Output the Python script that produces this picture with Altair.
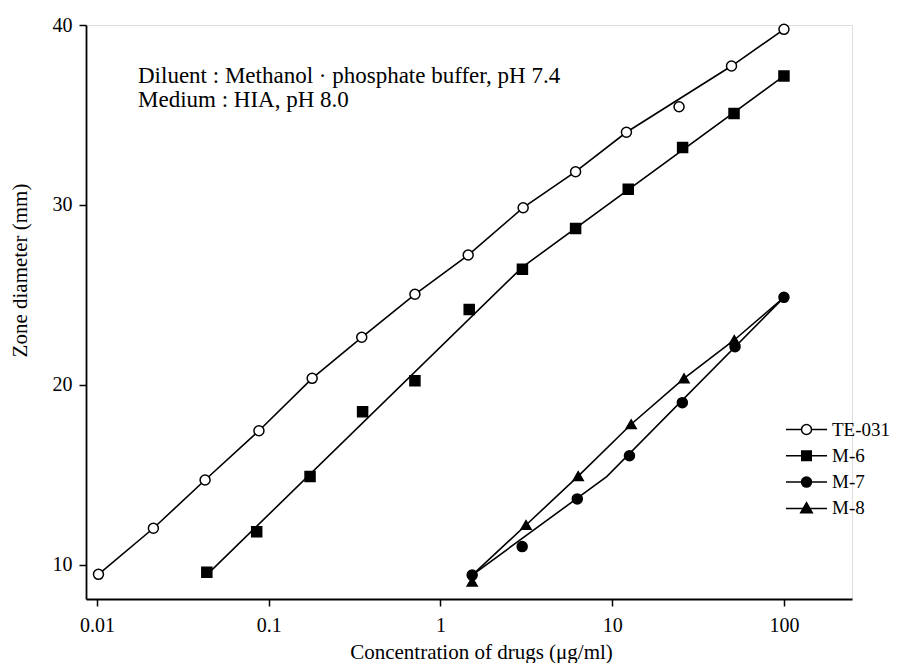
import altair as alt
import pandas as pd

# ---------------- data ----------------
series_order = ["TE-031", "M-6", "M-7", "M-8"]

te031_conc = [0.0102, 0.0213, 0.0426, 0.0877, 0.179, 0.348, 0.71, 1.45, 3.03, 6.12, 12.1, 24.5, 49.5, 100]
te031_zone = [9.48, 12.04, 14.72, 17.46, 20.37, 22.65, 25.04, 27.22, 29.85, 31.85, 34.04, 35.46, 37.72, 39.76]

m6_conc = [0.0436, 0.0851, 0.174, 0.352, 0.71, 1.47, 3.0, 6.12, 12.4, 25.7, 51.2, 100]
m6_zone = [9.59, 11.85, 14.91, 18.52, 20.24, 24.2, 26.43, 28.7, 30.87, 33.2, 35.09, 37.17]

m7_conc = [1.53, 2.99, 6.26, 12.6, 25.6, 51.9, 100]
m7_zone = [9.44, 11.02, 13.67, 16.07, 19.02, 22.13, 24.87]

m8_conc = [1.53, 3.15, 6.34, 12.9, 26.2, 51.4]
m8_zone = [9.07, 12.22, 14.94, 17.82, 20.37, 22.5]

# vertices of the drawn (fitted) curves
te031_curve_conc = [0.0102, 0.0213, 0.0426, 0.0877, 0.179, 0.348, 0.71, 1.45, 3.03, 6.12, 12.1, 49.5, 100]
te031_curve_zone = [9.48, 12.04, 14.72, 17.46, 20.37, 22.65, 25.04, 27.22, 29.85, 31.85, 34.04, 37.72, 39.76]
m6_curve_conc = [0.0436, 3.0, 100]
m6_curve_zone = [9.45, 26.55, 37.17]
m7_curve_conc = [1.53, 9.29, 100]
m7_curve_zone = [9.44, 14.91, 24.87]
m8_curve_conc = [1.53, 3.15, 6.34, 12.9, 26.2, 51.4, 100]
m8_curve_zone = [9.44, 12.22, 14.94, 17.82, 20.37, 22.5, 24.87]

x_ticks = [0.01, 0.1, 1, 10, 100]
y_ticks = [10, 20, 30, 40]

annotation_lines = ["Diluent : Methanol \u00b7 phosphate buffer, pH 7.4", "Medium : HIA, pH 8.0"]

# ---------------- tables ----------------
def table(name, xs, ys):
    return pd.DataFrame({"series": name, "conc": xs, "zone": ys})

points = pd.concat([
    table("TE-031", te031_conc, te031_zone),
    table("M-6", m6_conc, m6_zone),
    table("M-8", m8_conc, m8_zone),
    table("M-7", m7_conc, m7_zone),
], ignore_index=True)

curves = pd.concat([
    table("TE-031", te031_curve_conc, te031_curve_zone),
    table("M-6", m6_curve_conc, m6_curve_zone),
    table("M-7", m7_curve_conc, m7_curve_zone),
    table("M-8", m8_curve_conc, m8_curve_zone),
], ignore_index=True)

# ---------------- styles ----------------
FONT = "Liberation Serif"
marker_shapes = ["circle", "square", "circle", "triangle-up"]
marker_fills = ["white", "black", "black", "black"]
marker_strokes = ["black", "black", "black", "black"]
legend_paths = [
    "M-4.1,0L-1,0M1,0L4.1,0M-1,0A1,1,0,1,0,1,0A1,1,0,1,0,-1,0Z",
    "M-4.1,0L4.1,0M-0.95,-0.95L0.95,-0.95L0.95,0.95L-0.95,0.95Z",
    "M-4.1,0L4.1,0M-1,0A1,1,0,1,0,1,0A1,1,0,1,0,-1,0Z",
    "M-4.1,0L4.1,0M0,-1.15L1.15,0.85L-1.15,0.85Z",
]

x_scale = alt.Scale(type="log", domain=[0.00863, 249], nice=False)
y_scale = alt.Scale(domain=[8.11, 40], nice=False, zero=False)

x_axis = alt.Axis(
    values=x_ticks, format="~g", grid=False, labelFlush=False,
    title="Concentration of drugs (\u03bcg/ml)",
    tickSize=7, tickWidth=1.5, tickColor="black",
    domainColor="black", domainWidth=1.8,
    labelFont=FONT, labelFontSize=20, labelColor="black",
    labelBaseline="alphabetic", labelPadding=25,
    titleFont=FONT, titleFontSize=21, titleFontWeight="normal", titleColor="black",
    titleX=395, titleY=59, titleAlign="center", titleBaseline="alphabetic",
)
y_axis = alt.Axis(
    values=y_ticks, format="d", grid=False,
    title="Zone diameter (mm)",
    tickSize=7, tickWidth=1.5, tickColor="black",
    domainColor="black", domainWidth=1.8,
    labelFont=FONT, labelFontSize=20, labelColor="black",
    labelBaseline="middle", labelPadding=7,
    titleFont=FONT, titleFontSize=21, titleFontWeight="normal", titleColor="black",
    titleX=-66, titleY=245, titleAlign="center", titleBaseline="middle", titleAngle=-90,
)

lines = alt.Chart(curves).mark_line(color="black", strokeWidth=1.6).encode(
    x=alt.X("conc:Q", scale=x_scale, axis=x_axis),
    y=alt.Y("zone:Q", scale=y_scale, axis=y_axis),
    detail="series:N",
)

pts = alt.Chart(points).mark_point(size=100, stroke="black", strokeWidth=1.5, opacity=1, fillOpacity=1).encode(
    x=alt.X("conc:Q", scale=x_scale),
    y=alt.Y("zone:Q", scale=y_scale),
    shape=alt.Shape("series:N", scale=alt.Scale(domain=series_order, range=marker_shapes), legend=None),
    fill=alt.Fill("series:N", scale=alt.Scale(domain=series_order, range=marker_fills), legend=None),
)

leg = alt.Legend(
    orient="none", legendX=711, legendY=395, title=None, direction="vertical",
    symbolSize=100, symbolStrokeWidth=1.5, symbolStrokeColor="black",
    labelFont=FONT, labelFontSize=19, labelColor="black", labelOffset=16,
    rowPadding=6.3, padding=0,
)
legend_layer = alt.Chart(points).transform_filter("false").mark_point(
    size=100, strokeWidth=1.5, opacity=1, fillOpacity=1
).encode(
    x=alt.X("conc:Q", scale=x_scale),
    y=alt.Y("zone:Q", scale=y_scale),
    shape=alt.Shape("series:N", scale=alt.Scale(domain=series_order, range=legend_paths), legend=leg),
    fill=alt.Fill("series:N", scale=alt.Scale(domain=series_order, range=marker_fills), legend=leg),
    stroke=alt.Stroke("series:N", scale=alt.Scale(domain=series_order, range=marker_strokes), legend=leg),
)

def note(text, ypix):
    return alt.Chart(alt.Data(values=[{"t": text}])).mark_text(
        align="left", baseline="alphabetic", font=FONT, fontSize=23, color="black"
    ).encode(x=alt.value(52), y=alt.value(ypix), text="t:N")

chart = alt.layer(
    lines, pts, legend_layer,
    note(annotation_lines[0], 58), note(annotation_lines[1], 82),
).resolve_scale(shape="independent", fill="independent", stroke="independent").properties(
    width=766, height=574,
    autosize=alt.AutoSizeParams(type="none"),
    padding={"left": 78, "top": 17, "right": 39, "bottom": 64},
).configure_view(stroke=None).configure(background="white")

chart.save("out.html", embed_options={"renderer": "svg", "actions": False})
